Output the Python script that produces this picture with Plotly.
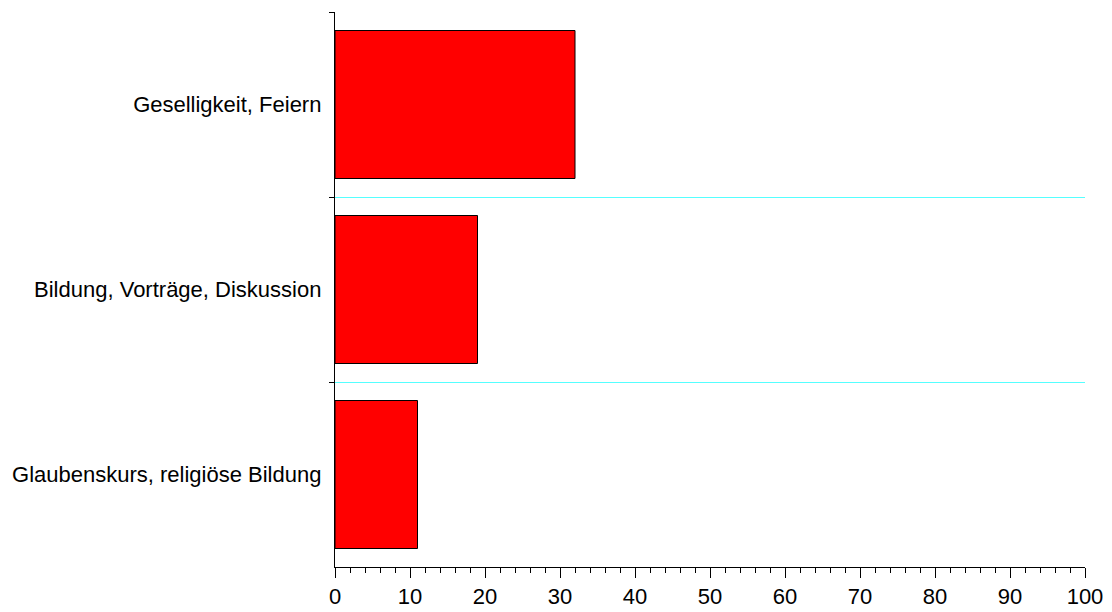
import plotly.graph_objects as go

categories = ["Geselligkeit, Feiern", "Bildung, Vorträge, Diskussion", "Glaubenskurs, religiöse Bildung"]
values = [32, 19, 11]
x_tickvals = [0, 10, 20, 30, 40, 50, 60, 70, 80, 90, 100]

FONT = "Liberation Sans, Arial, sans-serif"

fig = go.Figure()
fig.add_trace(go.Bar(
    y=categories, x=values, orientation="h",
    marker=dict(color="#FF0000", line=dict(color="black", width=1)),
    width=0.8, showlegend=False,
))

fig.update_layout(
    template="none",
    width=1104, height=604,
    margin=dict(l=327, r=27, t=4, b=45, pad=0),
    paper_bgcolor="white", plot_bgcolor="white",
    font=dict(family=FONT, size=22, color="black"),
    bargap=0.2,
    xaxis=dict(
        automargin=False,
        range=[0, 100], tickvals=x_tickvals, ticks="outside", ticklen=10,
        tickwidth=1.3, tickcolor="black",
        showline=True, linecolor="black", linewidth=1.3,
        showgrid=False, zeroline=False, ticklabelstandoff=-1,
        minor=dict(dtick=2, ticks="outside", ticklen=5, tickwidth=1.3, tickcolor="black", showgrid=False),
        tickfont=dict(size=22, family=FONT),
    ),
    yaxis=dict(
        automargin=False,
        type="category", categoryorder="array", categoryarray=categories,
        autorange="reversed", tickson="boundaries",
        ticks="outside", ticklen=5, tickwidth=1.3, tickcolor="black",
        showline=True, linecolor="black", linewidth=1.3,
        showgrid=True, gridcolor="#55FFFF", gridwidth=1,
        zeroline=False, ticklabelstandoff=8,
        tickfont=dict(size=22, family=FONT),
    ),
    yaxis2=dict(
        automargin=False,
        overlaying="y", side="left", range=[0, 3], tickvals=[0, 1, 2, 3],
        ticks="inside", ticklen=6, tickwidth=1.3, tickcolor="black",
        showticklabels=False, showgrid=False, zeroline=False, showline=False,
    ),
)

fig.write_html("out.html")
